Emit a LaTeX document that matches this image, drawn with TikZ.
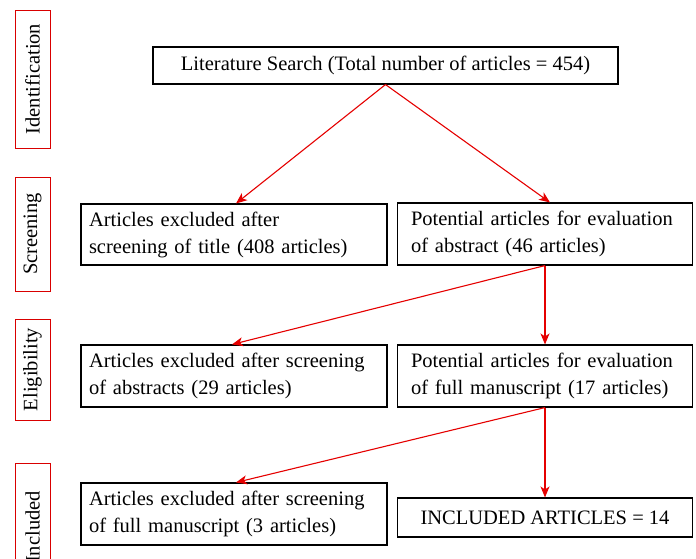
\documentclass[tikz,border=0pt]{standalone}
\usepackage{fontspec}
\setmainfont{Liberation Serif}
\usetikzlibrary{arrows.meta}
\begin{document}
\begin{tikzpicture}[x=1pt,y=-1pt,
  every node/.style={font=\fontsize{20.5}{27}\selectfont},
  stagebox/.style={draw=red!85!black, line width=1pt, rotate=90, inner sep=0pt,
    minimum height=35pt, anchor=center},
  flowbox/.style={draw=black, line width=1.1pt, inner sep=0pt, align=left},
  flowarrow/.style={draw=red!90!black, line width=1.1pt,
    -{Stealth[length=11pt,width=9pt,inset=3pt]}}]
\useasboundingbox (0,0) rectangle (696,558);
\clip (0,0) rectangle (696,558);

% stage labels on the left
\node[stagebox, minimum width=138pt] (sid) at (32.5,79) {Identification};
\node[stagebox, minimum width=114pt] (ssc) at (32.5,234) {Screening};
\node[stagebox, minimum width=101pt] (sel) at (32.5,369.5) {Eligibility};
\node[stagebox, minimum width=128pt] (sin) at (32.5,527) {Included};

% flow boxes
\node[flowbox, minimum width=465pt, minimum height=37pt, align=center] (lit) at (385.5,65.5)
  {Literature Search (Total number of articles = 454)};

\node[flowbox, minimum width=306pt, minimum height=61pt, text width=290pt] (ex1) at (234,234.5)
  {Articles excluded after\\screening of title (408 articles)};
\node[flowbox, minimum width=295pt, minimum height=62pt, text width=268pt] (pa1) at (545,234)
  {Potential articles for evaluation\\of abstract (46 articles)};

\node[flowbox, minimum width=306pt, minimum height=62pt, text width=290pt] (ex2) at (234,376)
  {Articles excluded after screening\\of abstracts (29 articles)};
\node[flowbox, minimum width=295pt, minimum height=62pt, text width=268pt] (pa2) at (545,376)
  {Potential articles for evaluation\\of full manuscript (17 articles)};

\node[flowbox, minimum width=306pt, minimum height=62pt, text width=290pt] (ex3) at (234,514)
  {Articles excluded after screening\\of full manuscript (3 articles)};
\node[flowbox, minimum width=295pt, minimum height=39pt, align=center] (inc) at (545,517.5)
  {INCLUDED ARTICLES = 14};

% connectors
\draw[flowarrow] (lit.south) -- ([xshift=2pt]ex1.north);
\draw[flowarrow] (lit.south) -- ([xshift=5pt]pa1.north);
\draw[flowarrow] (pa1.south) -- ([xshift=-2pt]ex2.north);
\draw[flowarrow] (pa1.south) -- (pa2.north);
\draw[flowarrow] (pa2.south) -- ([xshift=2pt]ex3.north);
\draw[flowarrow] (pa2.south) -- (inc.north);
\end{tikzpicture}
\end{document}
